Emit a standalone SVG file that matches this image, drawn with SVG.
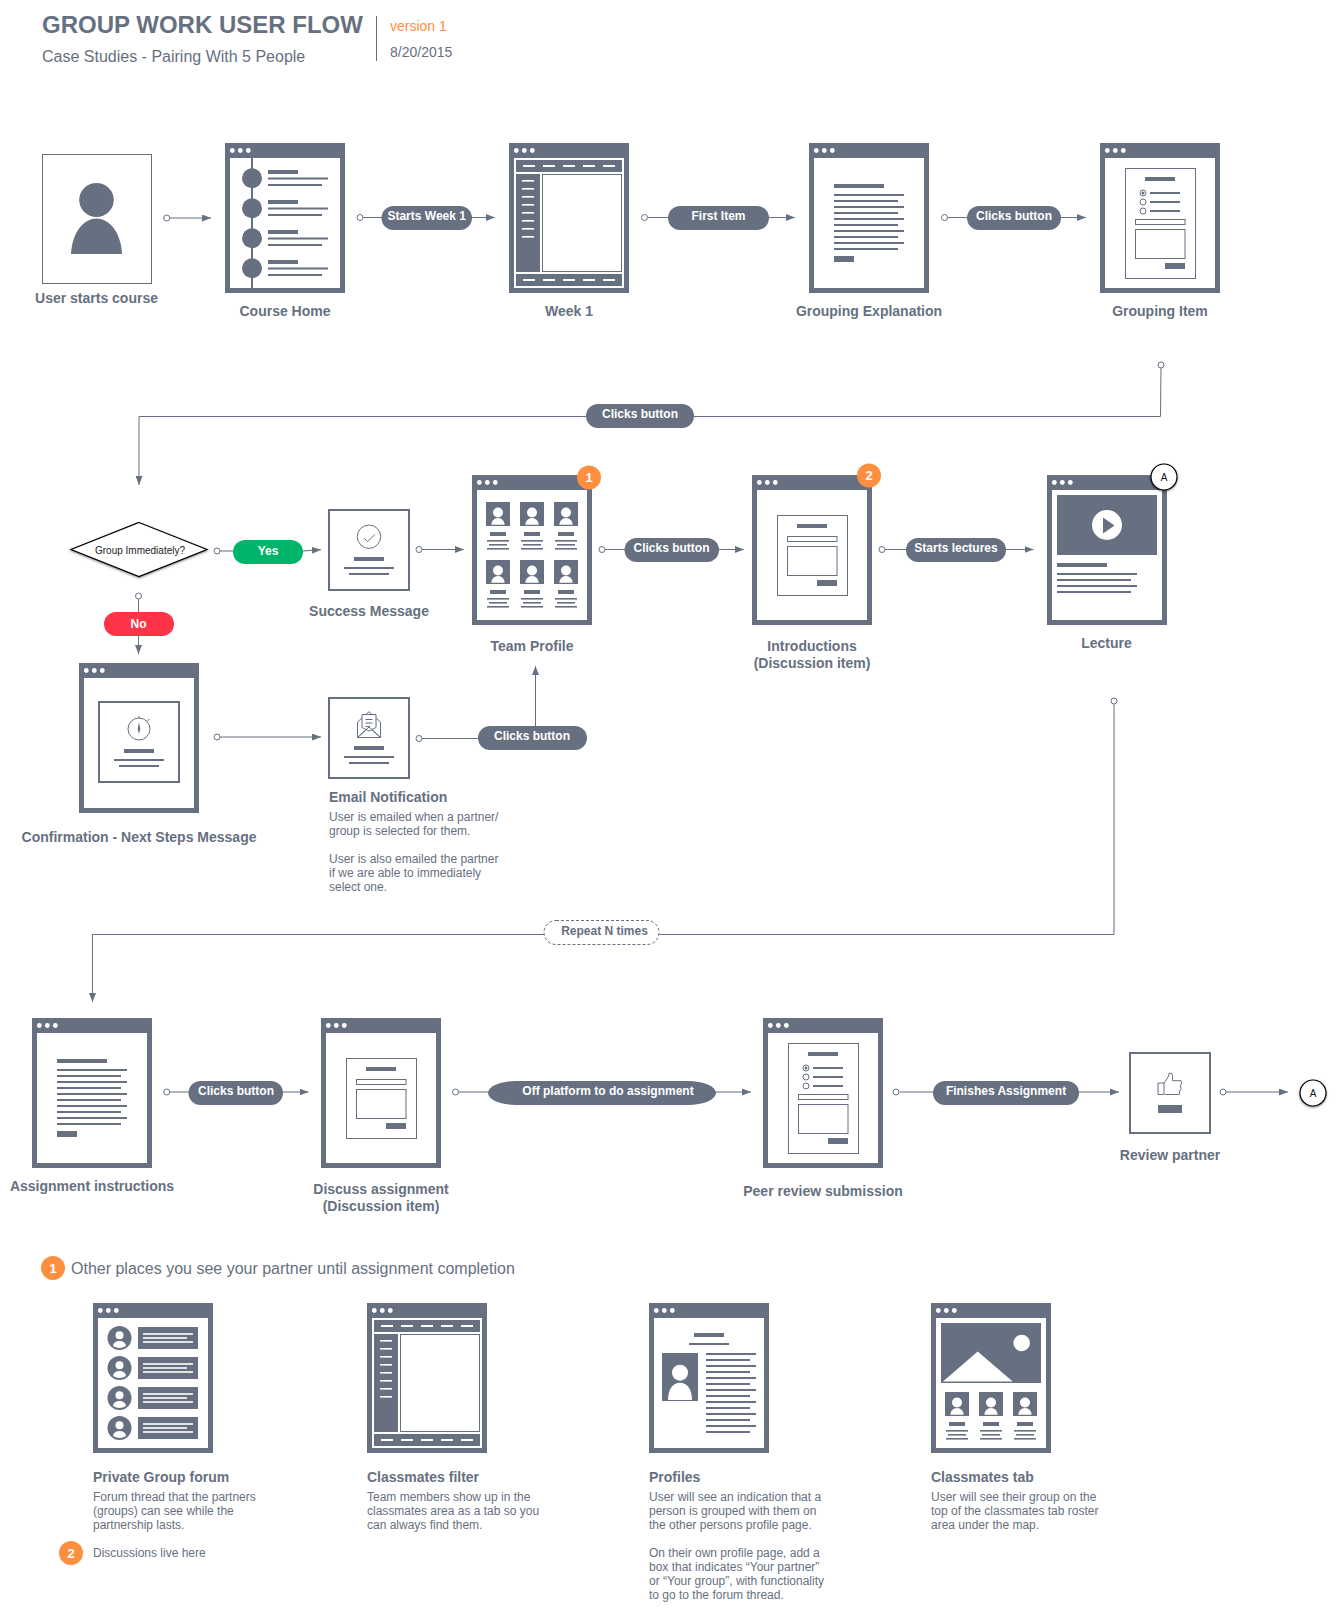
<svg xmlns="http://www.w3.org/2000/svg" width="1341" height="1611" viewBox="0 0 1341 1611">
<style>
text{font-family:"Liberation Sans",Arial,sans-serif;fill:#667080}
.lb{font-size:14px;font-weight:700;text-anchor:middle}
.ll{font-size:14px;font-weight:700}
.p{font-size:12px}
.pt{font-size:12px;font-weight:700;fill:#fff;text-anchor:middle}
.bt{font-size:13px;font-weight:700;fill:#fff;text-anchor:middle}
.f{fill:#667080}
.w{fill:#fff}
.o{fill:#fff;stroke:#667080;stroke-width:1}
.o2{fill:#fff;stroke:#667080;stroke-width:2}
.n{fill:none;stroke:#667080;stroke-width:1}
.c{fill:none;stroke:#667080;stroke-width:1}
.h{fill:#fff;stroke:#667080;stroke-width:1}
.ba{fill:#ff8f40}
.ref{fill:#fff;stroke:#000;stroke-width:1.2;filter:url(#sh)}
.rt{font-size:10px;text-anchor:middle;fill:#111}
</style>
<defs>
<filter id="sh" x="-30%" y="-30%" width="160%" height="160%"><feDropShadow dx="0" dy="1" stdDeviation="1" flood-color="#000" flood-opacity=".5"/></filter>
<marker id="ah" markerWidth="9" markerHeight="7" refX="9" refY="3.5" orient="auto" markerUnits="userSpaceOnUse"><path d="M0 0L9 3.5L0 7Z" fill="#667080"/></marker>
<g id="frame"><rect class="f" width="120" height="150"/><rect class="w" x="5" y="15" width="110" height="130"/><circle class="w" cx="7.3" cy="7.5" r="2.4"/><circle class="w" cx="15.3" cy="7.5" r="2.4"/><circle class="w" cx="23.3" cy="7.5" r="2.4"/></g>
<g id="photo"><rect class="f" width="24" height="24"/><circle class="w" cx="12" cy="10.5" r="5"/><path class="w" d="M5.3 22.7A6.7 6.7 0 0 1 18.7 22.7Z"/></g>
<g id="prof"><use href="#photo"/><rect class="f" x="4" y="30" width="16" height="4"/><rect class="f" x="1" y="38" width="22" height="1.6"/><rect class="f" x="3" y="42" width="18" height="1.6"/><rect class="f" x="1" y="46" width="22" height="1.6"/></g>
<g id="doc"><rect class="f" x="25" y="41" width="50" height="4"/><rect class="f" x="25" y="51" width="70" height="2"/><rect class="f" x="25" y="57" width="64" height="2"/><rect class="f" x="25" y="63" width="70" height="2"/><rect class="f" x="25" y="69" width="64" height="2"/><rect class="f" x="25" y="75" width="70" height="2"/><rect class="f" x="25" y="81" width="64" height="2"/><rect class="f" x="25" y="87" width="70" height="2"/><rect class="f" x="25" y="93" width="64" height="2"/><rect class="f" x="25" y="99" width="70" height="2"/><rect class="f" x="25" y="105" width="64" height="2"/><rect class="f" x="25" y="113" width="20" height="6"/></g>
<g id="quiz"><rect class="o" x="25.500" y="25.500" width="70" height="110"/><rect class="f" x="45" y="34" width="30" height="4"/><circle class="n" cx="43" cy="50" r="3"/><circle class="f" cx="43" cy="50" r="1.500"/><circle class="n" cx="43" cy="59" r="3"/><circle class="n" cx="43" cy="68" r="3"/><rect class="f" x="50" y="49" width="30" height="2"/><rect class="f" x="50" y="58" width="30" height="2"/><rect class="f" x="50" y="67" width="30" height="2"/><rect class="o" x="35.500" y="76.500" width="49.500" height="5"/><rect class="o" x="35.500" y="86.500" width="49.500" height="29"/><rect class="f" x="65" y="120" width="20" height="6"/></g>
<g id="post"><rect class="o" x="25.500" y="40.500" width="70" height="80"/><rect class="f" x="45" y="49" width="30" height="4"/><rect class="o" x="35.500" y="61.500" width="49.500" height="5"/><rect class="o" x="35.500" y="71.500" width="49.500" height="29"/><rect class="f" x="65" y="105" width="20" height="6"/></g>
<g id="sidebar"><rect class="f" x="7" y="17" width="106" height="12"/><rect class="w" x="14" y="22" width="12" height="2"/><rect class="w" x="34" y="22" width="12" height="2"/><rect class="w" x="54" y="22" width="12" height="2"/><rect class="w" x="74" y="22" width="12" height="2"/><rect class="w" x="94" y="22" width="12" height="2"/><rect class="f" x="7" y="31" width="24" height="98"/><rect class="w" x="13" y="37" width="12" height="1.600"/><rect class="w" x="13" y="45" width="12" height="1.600"/><rect class="w" x="13" y="53" width="12" height="1.600"/><rect class="w" x="13" y="61" width="12" height="1.600"/><rect class="w" x="13" y="69" width="12" height="1.600"/><rect class="w" x="13" y="77" width="12" height="1.600"/><rect class="w" x="13" y="85" width="12" height="1.600"/><rect class="w" x="13" y="93" width="12" height="1.600"/><rect class="o" x="33.500" y="31.500" width="79" height="97"/><rect class="f" x="7" y="131" width="106" height="12"/><rect class="w" x="14" y="136" width="12" height="2"/><rect class="w" x="34" y="136" width="12" height="2"/><rect class="w" x="54" y="136" width="12" height="2"/><rect class="w" x="74" y="136" width="12" height="2"/><rect class="w" x="94" y="136" width="12" height="2"/></g>
<g id="cm"><circle class="f" cx="26.500" cy="0" r="12"/><circle class="w" cx="26.500" cy="-2.700" r="4"/><path class="w" d="M20 8A6.500 5 0 0 1 33 8A12 12 0 0 1 20 8Z"/><rect class="f" x="45" y="-11" width="60" height="22"/><rect class="w" x="50" y="-4.800" width="50" height="1.600"/><rect class="w" x="50" y="-0.800" width="44" height="1.600"/><rect class="w" x="50" y="3.200" width="50" height="1.600"/></g>
<g id="ch"><rect class="f" x="268" y="170" width="30" height="4"/><rect class="f" x="268" y="177.500" width="60" height="2"/><rect class="f" x="268" y="184" width="54" height="2"/></g>
</defs>
<rect width="1341" height="1611" fill="#fff"/>

<g id="header">
<text x="42" y="33" font-size="24" font-weight="700">GROUP WORK USER FLOW</text>
<text x="42" y="62" font-size="16">Case Studies - Pairing With 5 People</text>
<rect class="f" x="376" y="16" width="1" height="45"/>
<text x="390" y="31" font-size="14" style="fill:#ff8f40">version 1</text>
<text x="390" y="57" font-size="14">8/20/2015</text>
</g>

<g id="connectors">
<path class="c" d="M170 218H211" marker-end="url(#ah)"/>
<path class="c" d="M363 217.500H495" marker-end="url(#ah)"/>
<path class="c" d="M647.500 217.500H795" marker-end="url(#ah)"/>
<path class="c" d="M947.500 217.500H1086" marker-end="url(#ah)"/>
<path class="c" d="M1161 368L1160.500 416.500H139V485" marker-end="url(#ah)"/>
<path class="c" d="M220 551H303L321 549.700" marker-end="url(#ah)"/>
<path class="c" d="M422 549.500H464" marker-end="url(#ah)"/>
<path class="c" d="M605 549.500H744" marker-end="url(#ah)"/>
<path class="c" d="M885 549.500H1033.500" marker-end="url(#ah)"/>
<path class="c" d="M138.500 599V654" marker-end="url(#ah)"/>
<path class="c" d="M220 737H321" marker-end="url(#ah)"/>
<path class="c" d="M422 738.500H480"/>
<path class="c" d="M535.500 726V666" marker-end="url(#ah)"/>
<path class="c" d="M1114 704V934.500H92.500V1002" marker-end="url(#ah)"/>
<path class="c" d="M170 1092H308.500" marker-end="url(#ah)"/>
<path class="c" d="M458.500 1092H751" marker-end="url(#ah)"/>
<path class="c" d="M899.500 1092H1119" marker-end="url(#ah)"/>
<path class="c" d="M1226 1092H1288" marker-end="url(#ah)"/>
<circle class="h" cx="166.700" cy="218" r="3"/><circle class="h" cx="360" cy="217.500" r="3"/><circle class="h" cx="644.500" cy="217.500" r="3"/><circle class="h" cx="944.500" cy="217.500" r="3"/><circle class="h" cx="1161" cy="365" r="3"/><circle class="h" cx="217" cy="551" r="3"/><circle class="h" cx="419" cy="549.500" r="3"/><circle class="h" cx="602" cy="549.500" r="3"/><circle class="h" cx="882" cy="549.500" r="3"/><circle class="h" cx="138.500" cy="596" r="3"/><circle class="h" cx="217" cy="737" r="3"/><circle class="h" cx="419" cy="738.500" r="3"/><circle class="h" cx="1114" cy="701" r="3"/><circle class="h" cx="166.700" cy="1092" r="3"/><circle class="h" cx="455.500" cy="1092" r="3"/><circle class="h" cx="896" cy="1092" r="3"/><circle class="h" cx="1223" cy="1092" r="3"/>
</g>

<g id="pills">
<rect class="f" x="381.500" y="206" width="90.500" height="24" rx="12"/><text class="pt" x="426.700" y="220">Starts Week 1</text>
<rect class="f" x="668" y="206" width="101" height="24" rx="12"/><text class="pt" x="718.500" y="220">First Item</text>
<rect class="f" x="967" y="206" width="94" height="24" rx="12"/><text class="pt" x="1014" y="220">Clicks button</text>
<rect class="f" x="586" y="404" width="108" height="24" rx="12"/><text class="pt" x="640" y="418">Clicks button</text>
<rect x="233" y="540" width="70" height="24" rx="12" fill="#00b56a"/><text class="pt" x="268" y="555">Yes</text>
<rect x="104" y="612" width="70" height="24" rx="12" fill="#ff3347"/><text class="pt" x="138.500" y="628">No</text>
<rect class="f" x="624.500" y="538" width="94.500" height="24" rx="12"/><text class="pt" x="671.500" y="552">Clicks button</text>
<rect class="f" x="906" y="538" width="100" height="24" rx="12"/><text class="pt" x="956" y="552">Starts lectures</text>
<rect class="f" x="478" y="726" width="109" height="24" rx="12"/><text class="pt" x="532" y="740">Clicks button</text>
<rect x="544" y="920.500" width="115" height="24" rx="12" fill="#fff" stroke="#667080" stroke-dasharray="3 2"/><text class="pt" x="604.500" y="935" style="fill:#667080">Repeat N times</text>
<rect class="f" x="188.500" y="1081" width="94.500" height="24" rx="12"/><text class="pt" x="236" y="1095">Clicks button</text>
<rect class="f" x="488" y="1081" width="228" height="24" rx="28" ry="12"/><text class="pt" x="608" y="1095">Off platform to do assignment</text>
<rect class="f" x="933" y="1081" width="146" height="24" rx="12"/><text class="pt" x="1006" y="1095">Finishes Assignment</text>
</g>

<g id="user-starts-course">
<rect class="o" x="42.500" y="154.500" width="109" height="129"/>
<ellipse class="f" cx="96.500" cy="200" rx="17.300" ry="17"/>
<path class="f" d="M71 254C72 232 84 218.500 96.500 218.500C109 218.500 121 232 122 254Z"/>
<text class="lb" x="96.500" y="303">User starts course</text>
</g>

<g id="course-home">
<use href="#frame" x="225" y="143"/>
<rect class="f" x="251" y="158" width="2" height="130"/>
<circle class="f" cx="252" cy="178.300" r="10"/><circle class="f" cx="252" cy="208.300" r="10"/><circle class="f" cx="252" cy="238.300" r="10"/><circle class="f" cx="252" cy="268.300" r="10"/>
<use href="#ch"/><use href="#ch" y="30"/><use href="#ch" y="60"/><use href="#ch" y="90"/>
<text class="lb" x="285" y="316">Course Home</text>
</g>

<g id="week-1"><use href="#frame" x="509" y="143"/><use href="#sidebar" x="509" y="143"/><text class="lb" x="569" y="316">Week 1</text></g>
<g id="grouping-explanation"><use href="#frame" x="809" y="143"/><use href="#doc" x="809" y="143"/><text class="lb" x="869" y="316">Grouping Explanation</text></g>
<g id="grouping-item"><use href="#frame" x="1100" y="143"/><use href="#quiz" x="1100" y="143"/><text class="lb" x="1160" y="316">Grouping Item</text></g>

<g id="group-immediately">
<path d="M139 522.500L207 549.500L139 576.500L71 549.500Z" fill="#fff" stroke="#000" stroke-width="1.200" filter="url(#sh)"/>
<text x="140" y="554" font-size="10" text-anchor="middle" style="fill:#222">Group Immediately?</text>
</g>

<g id="success-message">
<rect class="o2" x="329" y="510" width="80" height="80"/>
<circle class="n" cx="369" cy="536.700" r="11.700"/>
<path class="n" stroke-width="1.300" d="M364 538.300L367.700 541.700L375 534.300"/>
<rect class="f" x="354" y="557" width="30" height="4"/><rect class="f" x="344" y="567" width="50" height="2"/><rect class="f" x="349" y="573" width="40" height="2"/>
<text class="lb" x="369" y="616">Success Message</text>
</g>

<g id="team-profile">
<use href="#frame" x="472" y="475"/>
<use href="#prof" x="486" y="502"/><use href="#prof" x="520" y="502"/><use href="#prof" x="554" y="502"/>
<use href="#prof" x="486" y="560"/><use href="#prof" x="520" y="560"/><use href="#prof" x="554" y="560"/>
<circle class="ba" cx="589" cy="477.500" r="12"/><text class="bt" x="589" y="482">1</text>
<text class="lb" x="532" y="651">Team Profile</text>
</g>

<g id="introductions">
<use href="#frame" x="752" y="475"/><use href="#post" x="752" y="475"/>
<circle class="ba" cx="869" cy="475.500" r="12"/><text class="bt" x="869" y="480">2</text>
<text class="lb" x="812" y="651">Introductions</text><text class="lb" x="812" y="668">(Discussion item)</text>
</g>

<g id="lecture">
<use href="#frame" x="1047" y="475"/>
<rect class="f" x="1057" y="495" width="100" height="60"/>
<circle class="w" cx="1107" cy="525" r="15"/><path class="f" d="M1103 517.500L1114.500 525.500L1103 533.500Z"/>
<rect class="f" x="1057" y="563" width="50" height="4"/><rect class="f" x="1057" y="573" width="80" height="2"/><rect class="f" x="1057" y="579" width="74" height="2"/><rect class="f" x="1057" y="585" width="80" height="2"/><rect class="f" x="1057" y="591" width="74" height="2"/>
<circle class="ref" cx="1164" cy="477" r="13"/><text class="rt" x="1164" y="481">A</text>
<text class="lb" x="1106.500" y="648">Lecture</text>
</g>

<g id="confirmation">
<use href="#frame" x="79" y="663"/>
<rect class="o2" x="99" y="702" width="80" height="80"/>
<circle class="n" cx="139" cy="729" r="11"/>
<path class="n" d="M139 718V716M147.500 721L149.500 719"/>
<path class="f" d="M139 722L140.300 729L139 734L137.700 729Z"/>
<rect class="f" x="124" y="749" width="30" height="4"/><rect class="f" x="114" y="759" width="50" height="2"/><rect class="f" x="119" y="765" width="40" height="2"/>
<text class="lb" x="139" y="842">Confirmation - Next Steps Message</text>
</g>

<g id="email-notification">
<rect class="o2" x="329" y="698" width="80" height="80"/>
<path class="n" d="M357.500 722L369 711.700L380.500 722V737.500H357.500ZM357.500 737.500L369 727L380.500 737.500"/>
<path class="o" d="M362 727.500V714.500H376V727.500L369 731Z"/>
<path class="n" d="M365.500 719.500H372.500M365.500 723H372.500M365.500 726.500H370"/>
<path class="n" d="M357.500 737.500L369 727L380.500 737.500"/>
<rect class="f" x="354" y="746" width="30" height="4"/><rect class="f" x="344" y="756" width="50" height="2"/><rect class="f" x="349" y="762" width="40" height="2"/>
<text class="ll" x="329" y="802">Email Notification</text>
<text class="p" x="329" y="821">User is emailed when a partner/</text>
<text class="p" x="329" y="835">group is selected for them.</text>
<text class="p" x="329" y="863">User is also emailed the partner</text>
<text class="p" x="329" y="877">if we are able to immediately</text>
<text class="p" x="329" y="891">select one.</text>
</g>

<g id="assignment-instructions"><use href="#frame" x="32" y="1018"/><use href="#doc" x="32" y="1018"/><text class="lb" x="92" y="1191">Assignment instructions</text></g>
<g id="discuss-assignment"><use href="#frame" x="321" y="1018"/><use href="#post" x="321" y="1018"/><text class="lb" x="381" y="1194">Discuss assignment</text><text class="lb" x="381" y="1211">(Discussion item)</text></g>
<g id="peer-review"><use href="#frame" x="763" y="1018"/><use href="#quiz" x="763" y="1018"/><text class="lb" x="823" y="1196">Peer review submission</text></g>

<g id="review-partner">
<rect class="o2" x="1130" y="1053" width="80" height="80"/>
<path class="n" d="M1158 1083H1164V1094.500H1158ZM1164 1083.300L1168.300 1076.700L1169 1073.300H1171.700L1172.700 1076.700L1172.300 1080.700H1181L1181.700 1083.300L1180.300 1086L1181.200 1088.500L1179.700 1091L1179.300 1094.500H1165"/>
<rect class="f" x="1158" y="1105" width="24" height="8"/>
<text class="lb" x="1170" y="1160">Review partner</text>
</g>

<g id="ref-a"><circle class="ref" cx="1313" cy="1093" r="13"/><text class="rt" x="1313" y="1097">A</text></g>

<g id="section-title">
<circle class="ba" cx="53" cy="1268" r="12"/><text class="bt" x="53" y="1272.500">1</text>
<text x="71" y="1274" font-size="16">Other places you see your partner until assignment completion</text>
</g>

<g id="private-group-forum">
<use href="#frame" x="93" y="1303"/>
<use href="#cm" x="93" y="1338"/><use href="#cm" x="93" y="1368"/><use href="#cm" x="93" y="1398"/><use href="#cm" x="93" y="1428"/>
<text class="ll" x="93" y="1482">Private Group forum</text>
<text class="p" x="93" y="1501">Forum thread that the partners</text>
<text class="p" x="93" y="1515">(groups) can see while the</text>
<text class="p" x="93" y="1529">partnership lasts.</text>
<circle class="ba" cx="71" cy="1553" r="12"/><text class="bt" x="71" y="1557.500">2</text>
<text class="p" x="93" y="1557">Discussions live here</text>
</g>

<g id="classmates-filter">
<use href="#frame" x="367" y="1303"/><use href="#sidebar" x="367" y="1303"/>
<text class="ll" x="367" y="1482">Classmates filter</text>
<text class="p" x="367" y="1501">Team members show up in the</text>
<text class="p" x="367" y="1515">classmates area as a tab so you</text>
<text class="p" x="367" y="1529">can always find them.</text>
</g>

<g id="profiles">
<use href="#frame" x="649" y="1303"/>
<rect class="f" x="694" y="1333" width="30" height="4"/><rect class="f" x="689" y="1343" width="40" height="2"/>
<rect class="f" x="662" y="1353" width="36" height="48"/>
<circle class="w" cx="680" cy="1372.700" r="8"/><path class="w" d="M668 1400C668 1389 673 1382.700 680 1382.700C687 1382.700 692 1389 692 1400Z"/>
<rect class="f" x="706" y="1353" width="50" height="2"/><rect class="f" x="706" y="1359" width="44" height="2"/><rect class="f" x="706" y="1365" width="50" height="2"/><rect class="f" x="706" y="1371" width="44" height="2"/><rect class="f" x="706" y="1377" width="50" height="2"/><rect class="f" x="706" y="1383" width="44" height="2"/><rect class="f" x="706" y="1389" width="50" height="2"/><rect class="f" x="706" y="1395" width="44" height="2"/><rect class="f" x="706" y="1401" width="50" height="2"/><rect class="f" x="706" y="1407" width="44" height="2"/><rect class="f" x="706" y="1413" width="50" height="2"/><rect class="f" x="706" y="1419" width="44" height="2"/><rect class="f" x="706" y="1425" width="50" height="2"/><rect class="f" x="706" y="1431" width="44" height="2"/>
<text class="ll" x="649" y="1482">Profiles</text>
<text class="p" x="649" y="1501">User will see an indication that a</text>
<text class="p" x="649" y="1515">person is grouped with them on</text>
<text class="p" x="649" y="1529">the other persons profile page.</text>
<text class="p" x="649" y="1557">On their own profile page, add a</text>
<text class="p" x="649" y="1571">box that indicates “Your partner”</text>
<text class="p" x="649" y="1585">or “Your group”, with functionality</text>
<text class="p" x="649" y="1599">to go to the forum thread.</text>
</g>

<g id="classmates-tab">
<use href="#frame" x="931" y="1303"/>
<rect class="f" x="941" y="1323" width="100" height="60"/>
<circle class="w" cx="1021.700" cy="1343" r="8.300"/>
<path class="w" d="M943 1381.500L977.700 1351.500L1012.700 1381.500Z"/>
<use href="#prof" x="945" y="1392"/><use href="#prof" x="979" y="1392"/><use href="#prof" x="1013" y="1392"/>
<text class="ll" x="931" y="1482">Classmates tab</text>
<text class="p" x="931" y="1501">User will see their group on the</text>
<text class="p" x="931" y="1515">top of the classmates tab roster</text>
<text class="p" x="931" y="1529">area under the map.</text>
</g>
</svg>
